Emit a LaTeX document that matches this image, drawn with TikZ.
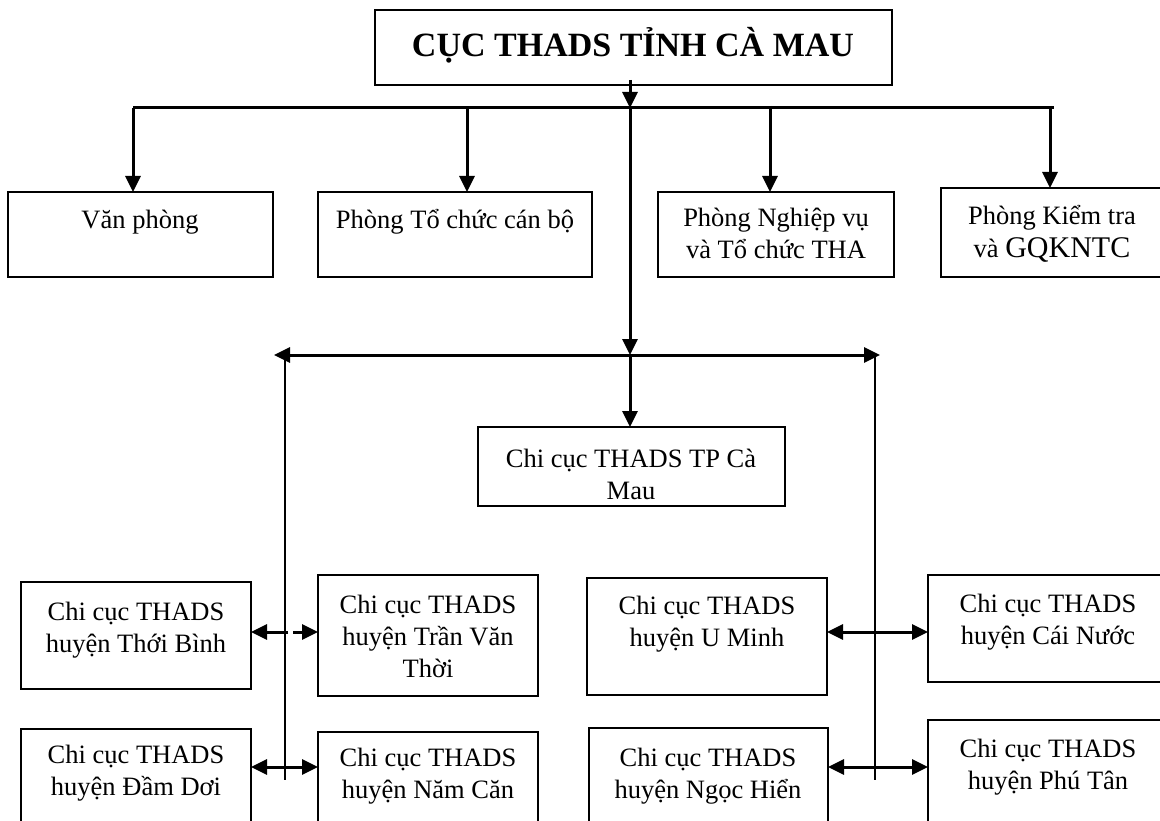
\documentclass[tikz,border=0pt]{standalone}
\usepackage{fontspec}
\setmainfont{Liberation Serif}
\usetikzlibrary{arrows.meta}
\begin{document}
\begin{tikzpicture}[x=1pt,y=-1pt,
  box/.style={draw, line width=2.3pt, inner sep=0pt, outer sep=0pt, anchor=north west},
  conn/.style={line width=3pt},
  trunk/.style={line width=2pt},
  tip/.style={-{Triangle[length=16pt,width=15pt]}},
  tips/.style={{Triangle[length=16pt,width=15pt]}-{Triangle[length=16pt,width=15pt]}},
  txt/.style={anchor=base, inner sep=0pt, font=\fontsize{26.5}{31}\selectfont},
  ttl/.style={anchor=base, inner sep=0pt, font=\bfseries\fontsize{34}{40}\selectfont},
]
\useasboundingbox (0,0) rectangle (1160,821);
\fill[white] (0,0) rectangle (1160,821);
\clip (0,0) rectangle (1160,821);

% boxes
\node[box, minimum width=517pt, minimum height=75pt] (title) at (375,10) {};
\node[box, minimum width=265pt, minimum height=85pt] (vp) at (8,192) {};
\node[box, minimum width=274pt, minimum height=85pt] (tccb) at (318,192) {};
\node[box, minimum width=236pt, minimum height=85pt] (nv) at (658,192) {};
\node[box, minimum width=230pt, minimum height=89pt] (kt) at (941,188) {};
\node[box, minimum width=307pt, minimum height=79pt] (tp) at (478,427) {};
\node[box, minimum width=230pt, minimum height=107pt] (tb) at (21,582) {};
\node[box, minimum width=220pt, minimum height=121pt] (tvt) at (318,575) {};
\node[box, minimum width=240pt, minimum height=117pt] (um) at (587,578) {};
\node[box, minimum width=250pt, minimum height=107pt] (cn) at (928,575) {};
\node[box, minimum width=230pt, minimum height=110pt] (dd) at (21,729) {};
\node[box, minimum width=220pt, minimum height=110pt] (nc) at (318,732) {};
\node[box, minimum width=239pt, minimum height=110pt] (nh) at (589,728) {};
\node[box, minimum width=250pt, minimum height=120pt] (pt) at (928,720) {};

% texts
\node[ttl] (title-t) at (633,57) {CỤC THADS TỈNH CÀ MAU};
\node[txt] (vp-t) at (140,229) {Văn phòng};
\node[txt] (tccb-t) at (455,229) {Phòng Tổ chức cán bộ};
\node[txt] (nv-t1) at (776,227) {Phòng Nghiệp vụ};
\node[txt] (nv-t2) at (776,259) {và Tổ chức THA};
\node[txt] (kt-t1) at (1052,225) {Phòng Kiểm tra};
\node[anchor=base, inner sep=0pt] (kt-t2) at (1052,258) {\fontsize{26.5}{31}\selectfont và \fontsize{30}{34}\selectfont GQKNTC};
\node[txt] (tp-t1) at (631,467) {Chi cục THADS TP Cà};
\node[txt] (tp-t2) at (631,499) {Mau};
\node[txt] (tb-t1) at (136,620) {Chi cục THADS};
\node[txt] (tb-t2) at (136,652) {huyện Thới Bình};
\node[txt] (tvt-t1) at (428,613) {Chi cục THADS};
\node[txt] (tvt-t2) at (428,645) {huyện Trần Văn};
\node[txt] (tvt-t3) at (428,677) {Thời};
\node[txt] (um-t1) at (707,614) {Chi cục THADS};
\node[txt] (um-t2) at (707,646) {huyện U Minh};
\node[txt] (cn-t1) at (1048,612) {Chi cục THADS};
\node[txt] (cn-t2) at (1048,644) {huyện Cái Nước};
\node[txt] (dd-t1) at (136,763) {Chi cục THADS};
\node[txt] (dd-t2) at (136,795) {huyện Đầm Dơi};
\node[txt] (nc-t1) at (428,766) {Chi cục THADS};
\node[txt] (nc-t2) at (428,798) {huyện Năm Căn};
\node[txt] (nh-t1) at (708,766) {Chi cục THADS};
\node[txt] (nh-t2) at (708,798) {huyện Ngọc Hiển};
\node[txt] (pt-t1) at (1048,757) {Chi cục THADS};
\node[txt] (pt-t2) at (1048,789) {huyện Phú Tân};

% coordinates
\coordinate (j0) at (630,108);
\coordinate (bl) at (133,108);
\coordinate (br) at (1054,108);
\coordinate (d2) at (467,108);
\coordinate (d3) at (770,106);
\coordinate (d4) at (1050,106);
\coordinate (j1) at (630,355);
\coordinate (ml) at (274,355);
\coordinate (mr) at (880,355);
\coordinate (vl) at (285,355);
\coordinate (vlb) at (285,780);
\coordinate (vr) at (875,355);
\coordinate (vrb) at (875,780);
\coordinate (r3l) at (285,632);
\coordinate (r3r) at (875,632);
\coordinate (r4l) at (285,767);
\coordinate (r4r) at (875,767);

% top bus
\draw[conn] (bl) -- (br);
\draw[conn,tip] ([yshift=5pt]title.south -| j0) -- (j0);
\draw[conn,tip] (bl) -- (vp.north -| bl);
\draw[conn,tip] (d2) -- (tccb.north -| d2);
\draw[conn,tip] (d3) -- (nv.north -| d3);
\draw[conn,tip] (d4) -- (kt.north -| d4);

% main trunk
\draw[conn,tip] (j0) -- (j1);
\draw[conn,tip] (j1) -- (tp.north -| j1);
\draw[conn,tips] (ml) -- (mr);

% side trunks
\draw[trunk] (vl) -- (vlb);
\draw[trunk] (vr) -- (vrb);

% row 3
\draw[conn,tip] ([xshift=3pt]r3l) -- (tb.east |- r3l);
\draw[conn,tip] ([xshift=8pt]r3l) -- (tvt.west |- r3l);
\draw[conn,tips] (um.east |- r3r) -- (cn.west |- r3r);

% row 4
\draw[conn,tips] (dd.east |- r4l) -- (nc.west |- r4l);
\draw[conn,tips] (nh.east |- r4r) -- (pt.west |- r4r);
\end{tikzpicture}
\end{document}
